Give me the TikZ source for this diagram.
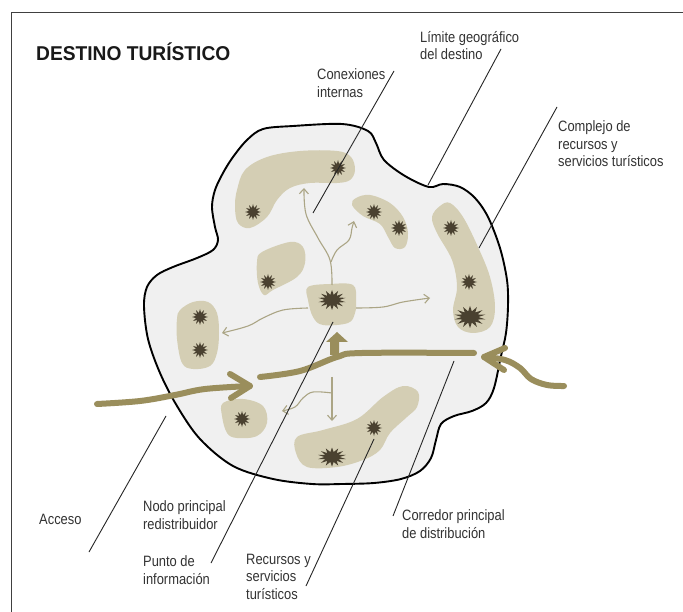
\documentclass[tikz,border=0pt]{standalone}
\usepackage{fontspec}
\setmainfont{Liberation Sans}
\newfontfamily\lblfont[FakeStretch=0.86]{Liberation Sans}
\newfontfamily\ttlfont[FakeStretch=0.96]{Liberation Sans}
\usetikzlibrary{shapes.geometric,arrows.meta}
\definecolor{inside}{HTML}{F0F0F0}
\definecolor{blobtan}{HTML}{D4CEB4}
\definecolor{darkstar}{HTML}{4A4130}
\definecolor{olive}{HTML}{9A8E5C}
\definecolor{thinol}{HTML}{ABA585}
\definecolor{txt}{HTML}{333333}
\tikzset{
  lbl/.style={font=\lblfont\fontsize{15}{17.5}\selectfont, text=txt, inner sep=0pt, align=left, anchor=base west},
  ttl/.style={font=\ttlfont\bfseries\fontsize{20}{24}\selectfont, text=black!90, inner sep=0pt, anchor=base west},
  leader/.style={draw=black!85, line width=0.9pt},
  blob/.style={fill=blobtan},
  spk/.style={star, star points=12, star point ratio=1.9, fill=darkstar, inner sep=0pt, minimum size=16pt},
  bigspk/.style={spk, star points=14, star point ratio=1.9, minimum size=20pt, transform shape},
  thickol/.style={draw=olive, line width=6pt, line cap=round, line join=round},
  thinarr/.style={draw=thinol, line width=1.1pt, -{Straight Barb[length=5pt,width=9pt]}},
}
\begin{document}
\begin{tikzpicture}[x=1pt,y=-1pt]
\useasboundingbox (0,0) rectangle (683,612);
\fill[white] (0,0) rectangle (683,612);
% frame
\draw[black!75, line width=1pt] (11,613) -- (11,13) -- (684,13);

% destination boundary
\draw[fill=inside, line width=1.9pt] plot[smooth cycle, tension=0.55] coordinates {
(247,140) (263,129) (293,126) (342,124) (368,131) (376,143) (384,160) (405,176) (429,187) (443,184) (460,187) (475,198) (488,217) (500,248) (507,280) (508,306) (506,333) (501,356) (494,388) (486,403) (472,411) (454,416) (441,424) (436,440) (431,458) (420,471) (401,479) (374,483) (342,484) (312,484) (273,479) (233,466) (200,439) (177,406) (160,373) (148,339) (144,306) (147,287) (157,275) (173,267) (197,258) (213,250) (218,240) (215,227) (212,207) (215,190) (223,173) (233,157)};

% blobs
\fill[blob] plot[smooth cycle, tension=0.6] coordinates {(235,207) (237,190) (245,170) (267,157) (300,151) (337,151) (351,157) (355,170) (350,180) (337,183) (310,183) (290,188) (277,200) (267,217) (250,228) (238,223)};
\fill[blob] plot[smooth cycle, tension=0.6] coordinates {(257,262) (262,252) (290,242) (303,247) (305,263) (297,277) (273,290) (264,295) (258,283)};
\fill[blob] plot[smooth cycle, tension=0.6] coordinates {(352,205) (356,198) (370,195) (390,203) (403,217) (408,233) (405,247) (395,248) (388,237) (380,224) (363,216)};
\fill[blob] plot[smooth cycle, tension=0.6] coordinates {(432,217) (440,206) (450,203) (463,217) (478,247) (490,277) (495,307) (490,327) (473,333) (458,327) (453,310) (457,287) (452,260) (437,233)};
\fill[blob] plot[smooth cycle, tension=0.6] coordinates {(177,319) (180,310) (193,302) (208,302) (217,313) (219,333) (217,353) (210,366) (193,369) (182,363) (177,339)};
\fill[blob] plot[smooth cycle, tension=0.6] coordinates {(308,287) (330,284) (353,285) (356,300) (355,313) (348,323) (323,325) (313,317) (308,300)};
\fill[blob] plot[smooth cycle, tension=0.6] coordinates {(222,416) (223,403) (243,399) (263,406) (267,423) (257,436) (237,438) (227,433)};
\fill[blob] plot[smooth cycle, tension=0.6] coordinates {(297,437) (323,430) (357,419) (383,397) (403,386) (418,392) (417,407) (407,417) (390,433) (380,450) (363,460) (337,467) (307,467) (296,453)};

% stars
\node[spk] (s1) at (338,168) {};
\node[spk] (s2) at (253,212) {};
\node[spk] (s3) at (268,282) {};
\node[spk] (s4) at (374,212) {};
\node[spk] (s5) at (399,228) {};
\node[spk] (s6) at (451,228) {};
\node[spk] (s7) at (469,282) {};
\node[spk] (s9) at (200,317) {};
\node[spk] (s10) at (200,350) {};
\node[spk] (s12) at (242,419) {};
\node[spk] (s13) at (374,428) {};
\begin{scope}[shift={(470,317)}, xscale=1.45]
  \node[bigspk, minimum size=22pt] (s8) at (0,0) {};
\end{scope}
\begin{scope}[shift={(332,300)}, xscale=1.4]
  \node[bigspk] (s11) at (0,0) {};
\end{scope}
\begin{scope}[shift={(332,457)}, xscale=1.5]
  \node[bigspk, minimum size=19pt] (s14) at (0,0) {};
\end{scope}

% thin internal connections
\draw[thinarr] plot[smooth, tension=0.6] coordinates {(332,285) (330,260) (318,238) (306,214) (304,188)};
\draw[thinarr] plot[smooth, tension=0.6] coordinates {(331,262) (337,250) (349,240) (352,228) (354,221)};
\draw[thinarr] plot[smooth, tension=0.6] coordinates {(356,308) (383,307) (403,302) (430,298)};
\draw[thinarr] plot[smooth, tension=0.6] coordinates {(308,308) (283,310) (263,318) (248,326) (222,333)};
\draw[thinarr] (332,377) -- (332,421);
\draw[thinarr] plot[smooth, tension=0.6] coordinates {(332,393) (313,392) (303,398) (295,407) (282,411)};

% thick flows
\draw[thickol] plot[smooth, tension=0.6] coordinates {(97,404) (140,401) (175,395) (205,389) (250,386)};
\draw[thickol] (230,374) -- (250,386) -- (231,398);
\draw[thickol] plot[smooth, tension=0.6] coordinates {(260,377) (300,371) (337,357) (362,353) (474,353)};
\fill[olive] (330,355) -- (330,342) -- (326,342) -- (337,332) -- (348,342) -- (339,342) -- (339,355) -- cycle;
\draw[thickol] plot[smooth, tension=0.6] coordinates {(564,386) (547,385) (531,379) (520,368) (505,360) (484,357)};
\draw[thickol] (505,348) -- (484,357) -- (504,370);

% labels (anchor at baseline of last line)
\node[ttl] (title) at (36,61) {DESTINO TURÍSTICO};
\node[lbl] (lim) at (420,60) {Límite geográfico\\del destino};
\node[lbl] (con) at (317,97.5) {Conexiones\\internas};
\node[lbl] (comp) at (558,167) {Complejo de\\recursos y\\servicios turísticos};
\node[lbl] (acc) at (39,524) {Acceso};
\node[lbl] (nodo) at (143,529) {Nodo principal\\redistribuidor};
\node[lbl] (punto) at (143,584) {Punto de\\información};
\node[lbl] (rec) at (246,599) {Recursos y\\servicios\\turísticos};
\node[lbl] (corr) at (402,538) {Corredor principal\\de distribución};

% leader lines
\coordinate (limA) at (501,49);  \coordinate (limB) at (428,185);
\coordinate (conA) at (394,71);  \coordinate (conB) at (313,213);
\coordinate (compA) at (557,107); \coordinate (compB) at (479,248);
\coordinate (accA) at (89,552);  \coordinate (accB) at (166,416);
\coordinate (nodA) at (211,563); \coordinate (nodB) at (333,322);
\coordinate (recA) at (306,586); \coordinate (recB) at (374,439);
\coordinate (corA) at (393,516); \coordinate (corB) at (454,361);
\draw[leader] (limA) -- (limB);
\draw[leader] (conA) -- (conB);
\draw[leader] (compA) -- (compB);
\draw[leader] (accA) -- (accB);
\draw[leader] (nodA) -- (nodB);
\draw[leader] (recA) -- (recB);
\draw[leader] (corA) -- (corB);
\end{tikzpicture}
\end{document}
